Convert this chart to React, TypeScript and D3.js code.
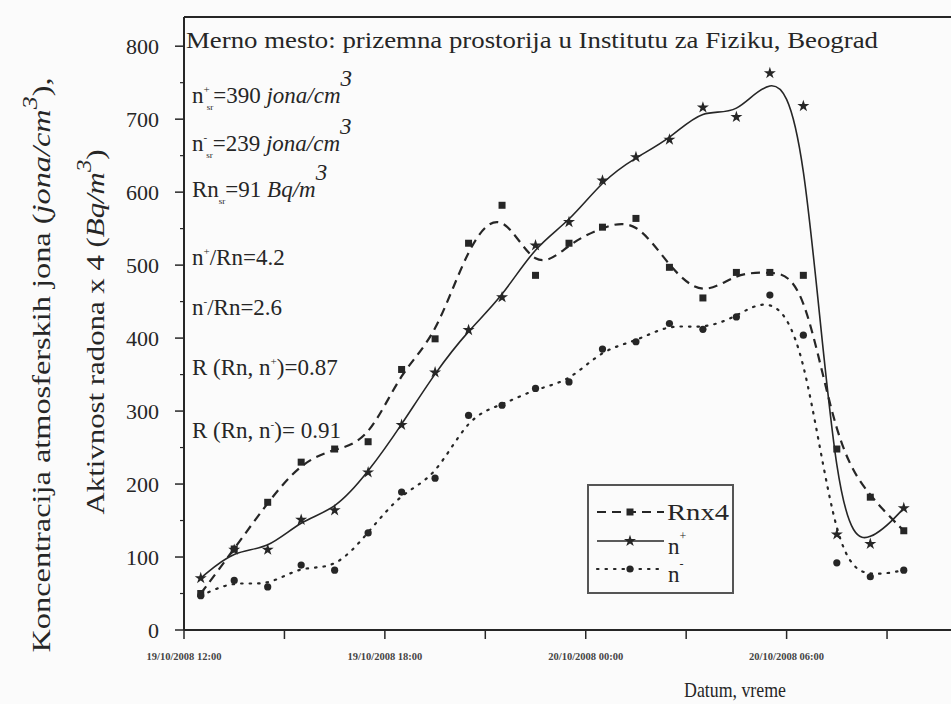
import React from "react";
import * as d3 from "d3";

// hourly measurements, 19/10/2008 12:30 .. 20/10/2008 09:30
const times = [
  "2008-10-19 12:30", "2008-10-19 13:30", "2008-10-19 14:30", "2008-10-19 15:30",
  "2008-10-19 16:30", "2008-10-19 17:30", "2008-10-19 18:30", "2008-10-19 19:30",
  "2008-10-19 20:30", "2008-10-19 21:30", "2008-10-19 22:30", "2008-10-19 23:30",
  "2008-10-20 00:30", "2008-10-20 01:30", "2008-10-20 02:30", "2008-10-20 03:30",
  "2008-10-20 04:30", "2008-10-20 05:30", "2008-10-20 06:30", "2008-10-20 07:30",
  "2008-10-20 08:30", "2008-10-20 09:30",
];
const rnx4 = [50, 111, 175, 230, 248, 258, 357, 399, 530, 582, 486, 530, 552, 564, 497, 455, 490, 490, 486, 248, 182, 136];
const nPlus = [71, 110, 110, 151, 164, 216, 281, 353, 411, 456, 527, 559, 616, 648, 672, 716, 703, 763, 718, 131, 118, 167];
const nMinus = [47, 68, 59, 89, 82, 133, 189, 208, 294, 308, 331, 340, 385, 395, 420, 412, 429, 459, 404, 92, 73, 82];

const yTicks = [0, 100, 200, 300, 400, 500, 600, 700, 800];
const yMinor = [50, 150, 250, 350, 450, 550, 650, 750];

const parse = d3.timeParse("%Y-%m-%d %H:%M");
const fmt = d3.timeFormat("%d/%m/%Y %H:%M");
const serif = "Liberation Serif, Times New Roman, serif";
const ink = "#262626";

const W = 951, H = 704;
const left = 184, bottom = 630, top = 17;

const x = d3.scaleTime()
  .domain([parse("2008-10-19 12:00")!, parse("2008-10-20 11:00")!])
  .range([left, 954]);
const y = d3.scaleLinear().domain([0, 840]).range([bottom, top]);

const dates = times.map((t) => parse(t)!);

const line = d3.line<number>()
  .x((d, i) => x(dates[i]))
  .y((d) => y(d))
  .curve(d3.curveBasis);

const star = d3.symbol().type(d3.symbolStar).size(45)()!;

function Square({ cx, cy }) {
  return <rect x={cx - 3.5} y={cy - 3.5} width={7} height={7} fill={ink} />;
}
function Star({ cx, cy }) {
  return <path d={star} transform={`translate(${cx},${cy})`} fill={ink} />;
}
function Dot({ cx, cy }) {
  return <circle cx={cx} cy={cy} r={3.6} fill={ink} />;
}

export default function App() {
  const xTicks = x.ticks(d3.timeHour.every(3)!);
  return (
    <svg width={W} height={H} style={{ position: "absolute", left: 0, top: 0, background: "#fbfbfb", fontFamily: serif }}>
      {/* frame */}
      <line x1={left} x2={W} y1={top} y2={top} stroke={ink} strokeWidth={2} />
      <line x1={left} x2={left} y1={top} y2={bottom} stroke={ink} strokeWidth={2} />
      <line x1={left} x2={W} y1={bottom} y2={bottom} stroke={ink} strokeWidth={2} />

      {/* y axis */}
      {yTicks.map((t) => (
        <g key={t}>
          <line x1={left - 9} x2={left} y1={y(t)} y2={y(t)} stroke={ink} strokeWidth={1.5} />
          <text x={left - 25} y={y(t)} dy="0.35em" textAnchor="end" fontSize={22} fill={ink}>{t}</text>
        </g>
      ))}
      {yMinor.map((t) => (
        <line key={t} x1={left - 4} x2={left} y1={y(t)} y2={y(t)} stroke={ink} strokeWidth={1.2} />
      ))}

      {/* x axis */}
      {xTicks.map((t, i) => (
        <g key={i}>
          <line x1={x(t)} x2={x(t)} y1={bottom} y2={bottom + 9} stroke={ink} strokeWidth={1.5} />
          {t.getHours() % 6 === 0 ? (
            <text x={x(t)} y={bottom + 30} textAnchor="middle" fontSize={10.5} fontWeight="bold" fill="#444">
              {fmt(t)}
            </text>
          ) : null}
        </g>
      ))}
      <text x={735} y={697} textAnchor="middle" fontSize={21} fill={ink} textLength={102} lengthAdjust="spacingAndGlyphs">Datum, vreme</text>

      {/* y title */}
      <text transform="translate(50,365) rotate(-90)" textAnchor="middle" fontSize={25} fill={ink}
        textLength={575} lengthAdjust="spacingAndGlyphs">
        Koncentracija atmosferskih jona (<tspan fontStyle="italic">jona/cm</tspan>
        <tspan fontStyle="italic" dy={-13} fontSize={20}>3</tspan><tspan dy={13}>),</tspan>
      </text>
      <text transform="translate(104,332) rotate(-90)" textAnchor="middle" fontSize={25} fill={ink}
        textLength={365} lengthAdjust="spacingAndGlyphs">
        Aktivnost radona x 4 (<tspan fontStyle="italic">Bq/m</tspan>
        <tspan fontStyle="italic" dy={-13} fontSize={20}>3</tspan><tspan dy={13}>)</tspan>
      </text>

      {/* annotations */}
      <g fontSize={23} fill={ink}>
        <text x={186} y={48} fontSize={24} textLength={692} lengthAdjust="spacingAndGlyphs">
          Merno mesto: prizemna prostorija u Institutu za Fiziku, Beograd</text>
        <text x={192} y={103}>n<tspan fontSize={11} dy={-10}>+</tspan><tspan fontSize={9} dx={-3} dy={17}>sr</tspan>
          <tspan dy={-7}>=390 </tspan><tspan fontStyle="italic">jona/cm</tspan>
          <tspan fontStyle="italic" dy={-17}>3</tspan></text>
        <text x={192} y={151}>n<tspan fontSize={11} dy={-10}>-</tspan><tspan fontSize={9} dx={-1} dy={17}>sr</tspan>
          <tspan dy={-7}>=239 </tspan><tspan fontStyle="italic">jona/cm</tspan>
          <tspan fontStyle="italic" dy={-17}>3</tspan></text>
        <text x={192} y={197}>Rn<tspan fontSize={9} dy={7}>sr</tspan>
          <tspan dy={-7}>=91 </tspan><tspan fontStyle="italic">Bq/m</tspan>
          <tspan fontStyle="italic" dy={-17}>3</tspan></text>
        <text x={192} y={265}>n<tspan fontSize={11} dy={-10}>+</tspan><tspan dy={10}>/Rn=4.2</tspan></text>
        <text x={192} y={315}>n<tspan fontSize={11} dy={-10}>-</tspan><tspan dy={10}>/Rn=2.6</tspan></text>
        <text x={192} y={375}>R (Rn, n<tspan fontSize={11} dy={-10}>+</tspan><tspan dy={10}>)=0.87</tspan></text>
        <text x={192} y={438}>R (Rn, n<tspan fontSize={11} dy={-10}>-</tspan><tspan dy={10}>)= 0.91</tspan></text>
      </g>

      {/* series */}
      <path d={line(rnx4)!} fill="none" stroke={ink} strokeWidth={2.2} strokeDasharray="9 6" />
      <path d={line(nPlus)!} fill="none" stroke={ink} strokeWidth={1.6} />
      <path d={line(nMinus)!} fill="none" stroke={ink} strokeWidth={2.2} strokeDasharray="1.5 7" strokeLinecap="round" />
      {rnx4.map((v, i) => <Square key={"r" + i} cx={x(dates[i])} cy={y(v)} />)}
      {nPlus.map((v, i) => <Star key={"p" + i} cx={x(dates[i])} cy={y(v)} />)}
      {nMinus.map((v, i) => <Dot key={"m" + i} cx={x(dates[i])} cy={y(v)} />)}

      {/* legend */}
      <g>
        <rect x={588} y={485} width={145} height={108} fill="none" stroke="#555" strokeWidth={2} />
        <line x1={597} x2={664} y1={512} y2={512} stroke={ink} strokeWidth={2.2} strokeDasharray="9 6" />
        <Square cx={630} cy={512} />
        <text x={667} y={520} fontSize={23} fill={ink} textLength={62} lengthAdjust="spacingAndGlyphs">Rnx4</text>
        <line x1={597} x2={664} y1={541} y2={541} stroke={ink} strokeWidth={1.6} />
        <Star cx={630} cy={541} />
        <text x={668} y={554} fontSize={23} fill={ink}>n<tspan fontSize={12} dy={-14}>+</tspan></text>
        <line x1={597} x2={664} y1={569} y2={569} stroke={ink} strokeWidth={2.2} strokeDasharray="1.5 7" strokeLinecap="round" />
        <Dot cx={630} cy={569} />
        <text x={668} y={582} fontSize={23} fill={ink}>n<tspan fontSize={12} dy={-14}>-</tspan></text>
      </g>
    </svg>
  );
}
